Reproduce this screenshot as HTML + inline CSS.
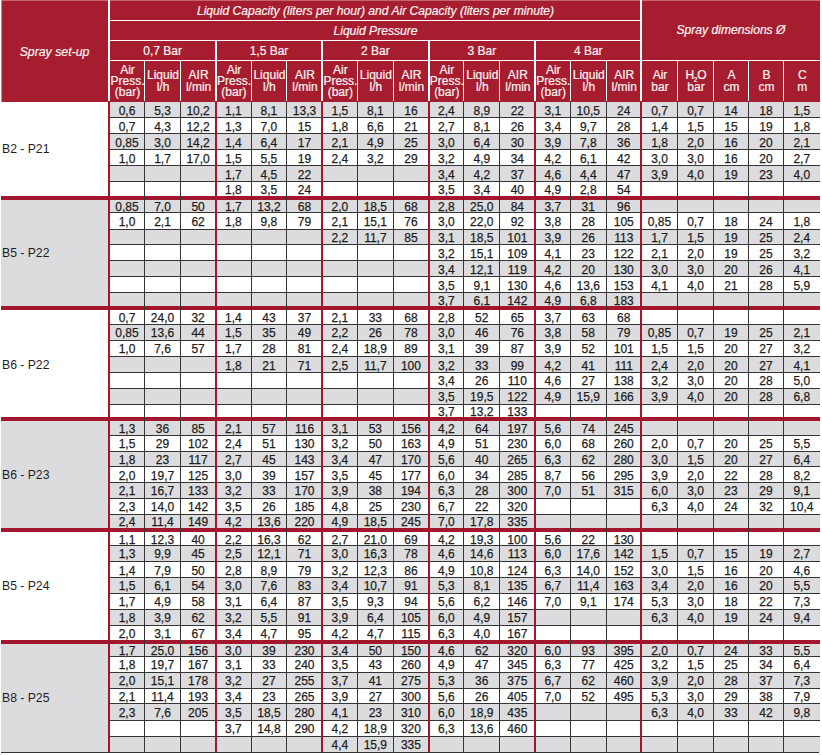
<!DOCTYPE html><html><head><meta charset="utf-8"><style>
html,body{margin:0;padding:0;background:#fff;width:822px;height:755px;overflow:hidden}
body{position:relative;font-family:"Liberation Sans",sans-serif}
div{position:absolute;box-sizing:border-box}
.r{background:#a61d2f}.rl{background:#a3162b}.g{background:#dcdcde}.dk{background:#353535}.w{background:#fff}
.t{color:#1e1e1e;font-size:12px;line-height:16px;text-align:center;white-space:nowrap;-webkit-text-stroke:0.25px #1e1e1e}
.h{color:#fbeeee;font-size:11px;line-height:10px;text-align:center;white-space:nowrap;-webkit-text-stroke:0.2px #fff;display:flex;align-items:center;justify-content:center;flex-direction:column}
.hi{font-style:italic}
.h span{display:block;position:relative}

</style></head><body>
<div class="r" style="left:1px;top:0;width:819px;height:102px"></div>
<div style="left:1px;top:0;width:819px;height:1px;background:#c4656f"></div>
<div style="left:1px;top:0;width:1px;height:102px;background:#d08890"></div>
<div class="w" style="left:108px;top:0px;width:2px;height:101px;"></div>
<div class="w" style="left:640px;top:0px;width:2px;height:101px;"></div>
<div class="w" style="left:110px;top:20px;width:531px;height:1px;"></div>
<div class="w" style="left:110px;top:40px;width:531px;height:1px;"></div>
<div class="w" style="left:110px;top:60px;width:710px;height:1px;"></div>
<div class="w" style="left:215px;top:40px;width:2px;height:61px;"></div>
<div class="w" style="left:321px;top:40px;width:2px;height:61px;"></div>
<div class="w" style="left:428px;top:40px;width:2px;height:61px;"></div>
<div class="w" style="left:534px;top:40px;width:2px;height:61px;"></div>
<div class="w" style="left:144px;top:60px;width:1px;height:41px;"></div>
<div class="w" style="left:180px;top:60px;width:1px;height:41px;"></div>
<div class="w" style="left:251px;top:60px;width:1px;height:41px;"></div>
<div class="w" style="left:286px;top:60px;width:1px;height:41px;"></div>
<div class="w" style="left:357px;top:60px;width:1px;height:41px;"></div>
<div class="w" style="left:393px;top:60px;width:1px;height:41px;"></div>
<div class="w" style="left:463px;top:60px;width:1px;height:41px;"></div>
<div class="w" style="left:499px;top:60px;width:1px;height:41px;"></div>
<div class="w" style="left:570px;top:60px;width:1px;height:41px;"></div>
<div class="w" style="left:606px;top:60px;width:1px;height:41px;"></div>
<div class="w" style="left:677px;top:60px;width:1px;height:41px;"></div>
<div class="w" style="left:713px;top:60px;width:1px;height:41px;"></div>
<div class="w" style="left:748px;top:60px;width:1px;height:41px;"></div>
<div class="w" style="left:783px;top:60px;width:1px;height:41px;"></div>
<div class="h hi" style="left:1.00px;top:1.00px;width:107.00px;height:101.00px;font-size:12.3px;line-height:14px"><span>Spray set-up</span></div>
<div class="h hi" style="left:110.00px;top:1.00px;width:531.00px;height:20.00px;font-size:12.1px;line-height:14px"><span>Liquid Capacity (liters per hour) and Air Capacity (liters per minute)</span></div>
<div class="h hi" style="left:110.00px;top:21.00px;width:531.00px;height:20.00px;font-size:12.1px;line-height:14px"><span>Liquid Pressure</span></div>
<div class="h hi" style="left:642.00px;top:0.00px;width:178.00px;height:60.00px;font-size:12.1px;line-height:14px"><span>Spray dimensions &Oslash;</span></div>
<div class="h" style="left:110.40px;top:41.00px;width:104.42px;height:20.00px;font-size:12px;line-height:14px"><span>0,7 Bar</span></div>
<div class="h" style="left:110.40px;top:61.70px;width:34.30px;height:40.00px;font-size:12px;line-height:11.4px"><span>Air<br>Press.<br>(bar)</span></div>
<div class="h" style="left:145.70px;top:61.70px;width:34.70px;height:40.00px;font-size:12px;line-height:11.4px"><span>Liquid<br>l/h</span></div>
<div class="h" style="left:181.40px;top:61.70px;width:34.42px;height:40.00px;font-size:12px;line-height:11.4px"><span>AIR<br>l/min</span></div>
<div class="h" style="left:216.82px;top:41.00px;width:104.42px;height:20.00px;font-size:12px;line-height:14px"><span>1,5 Bar</span></div>
<div class="h" style="left:216.82px;top:61.70px;width:34.30px;height:40.00px;font-size:12px;line-height:11.4px"><span>Air<br>Press.<br>(bar)</span></div>
<div class="h" style="left:252.12px;top:61.70px;width:34.70px;height:40.00px;font-size:12px;line-height:11.4px"><span>Liquid<br>l/h</span></div>
<div class="h" style="left:287.82px;top:61.70px;width:34.42px;height:40.00px;font-size:12px;line-height:11.4px"><span>AIR<br>l/min</span></div>
<div class="h" style="left:323.24px;top:41.00px;width:104.42px;height:20.00px;font-size:12px;line-height:14px"><span>2 Bar</span></div>
<div class="h" style="left:323.24px;top:61.70px;width:34.30px;height:40.00px;font-size:12px;line-height:11.4px"><span>Air<br>Press.<br>(bar)</span></div>
<div class="h" style="left:358.54px;top:61.70px;width:34.70px;height:40.00px;font-size:12px;line-height:11.4px"><span>Liquid<br>l/h</span></div>
<div class="h" style="left:394.24px;top:61.70px;width:34.42px;height:40.00px;font-size:12px;line-height:11.4px"><span>AIR<br>l/min</span></div>
<div class="h" style="left:429.66px;top:41.00px;width:104.42px;height:20.00px;font-size:12px;line-height:14px"><span>3 Bar</span></div>
<div class="h" style="left:429.66px;top:61.70px;width:34.30px;height:40.00px;font-size:12px;line-height:11.4px"><span>Air<br>Press.<br>(bar)</span></div>
<div class="h" style="left:464.96px;top:61.70px;width:34.70px;height:40.00px;font-size:12px;line-height:11.4px"><span>Liquid<br>l/h</span></div>
<div class="h" style="left:500.66px;top:61.70px;width:34.42px;height:40.00px;font-size:12px;line-height:11.4px"><span>AIR<br>l/min</span></div>
<div class="h" style="left:536.08px;top:41.00px;width:104.42px;height:20.00px;font-size:12px;line-height:14px"><span>4 Bar</span></div>
<div class="h" style="left:536.08px;top:61.70px;width:34.30px;height:40.00px;font-size:12px;line-height:11.4px"><span>Air<br>Press.<br>(bar)</span></div>
<div class="h" style="left:571.38px;top:61.70px;width:34.70px;height:40.00px;font-size:12px;line-height:11.4px"><span>Liquid<br>l/h</span></div>
<div class="h" style="left:607.08px;top:61.70px;width:34.42px;height:40.00px;font-size:12px;line-height:11.4px"><span>AIR<br>l/min</span></div>
<div class="h" style="left:642.50px;top:61.50px;width:35.00px;height:40.00px;font-size:12px;line-height:11.6px"><span>Air<br>bar</span></div>
<div class="h" style="left:678.50px;top:61.50px;width:35.00px;height:40.00px;font-size:12px;line-height:11.6px"><span>H<span style="display:inline;font-size:6.5px;vertical-align:-3.5px;line-height:0;margin:0 -0.3px">2</span>O<br>bar</span></div>
<div class="h" style="left:714.50px;top:61.50px;width:34.00px;height:40.00px;font-size:12px;line-height:11.6px"><span>A<br>cm</span></div>
<div class="h" style="left:749.50px;top:61.50px;width:34.00px;height:40.00px;font-size:12px;line-height:11.6px"><span>B<br>cm</span></div>
<div class="h" style="left:784.50px;top:61.50px;width:35.50px;height:40.00px;font-size:12px;line-height:11.6px"><span>C<br>m</span></div>
<div class="g" style="left:110px;top:102px;width:710px;height:16px;"></div>
<div class="g" style="left:110px;top:134px;width:710px;height:16px;"></div>
<div class="g" style="left:110px;top:166px;width:710px;height:16px;"></div>
<div class="g" style="left:110px;top:198px;width:710px;height:15px;"></div>
<div class="g" style="left:110px;top:229px;width:710px;height:16px;"></div>
<div class="g" style="left:110px;top:261px;width:710px;height:15px;"></div>
<div class="g" style="left:110px;top:293px;width:710px;height:15px;"></div>
<div class="g" style="left:110px;top:324px;width:710px;height:16px;"></div>
<div class="g" style="left:110px;top:357px;width:710px;height:15px;"></div>
<div class="g" style="left:110px;top:388px;width:710px;height:16px;"></div>
<div class="g" style="left:110px;top:419px;width:710px;height:16px;"></div>
<div class="g" style="left:110px;top:451px;width:710px;height:16px;"></div>
<div class="g" style="left:110px;top:482px;width:710px;height:16px;"></div>
<div class="g" style="left:110px;top:514px;width:710px;height:16px;"></div>
<div class="g" style="left:110px;top:545px;width:710px;height:16px;"></div>
<div class="g" style="left:110px;top:578px;width:710px;height:15px;"></div>
<div class="g" style="left:110px;top:609px;width:710px;height:16px;"></div>
<div class="g" style="left:110px;top:642px;width:710px;height:14px;"></div>
<div class="g" style="left:110px;top:672px;width:710px;height:16px;"></div>
<div class="g" style="left:110px;top:704px;width:710px;height:16px;"></div>
<div class="g" style="left:110px;top:736px;width:710px;height:16px;"></div>
<div class="w" style="left:1px;top:102px;width:107px;height:96px;"></div>
<div style="left:2px;top:139.05px;height:20px;line-height:20px;font-size:12.2px;color:#1e1e1e;white-space:nowrap">B2 - P21</div>
<div class="g" style="left:1px;top:198px;width:107px;height:110px;"></div>
<div style="left:2px;top:243.35px;height:20px;line-height:20px;font-size:12.2px;color:#1e1e1e;white-space:nowrap">B5 - P22</div>
<div class="w" style="left:1px;top:308px;width:107px;height:111px;"></div>
<div style="left:2px;top:354.75px;height:20px;line-height:20px;font-size:12.2px;color:#1e1e1e;white-space:nowrap">B6 - P22</div>
<div class="g" style="left:1px;top:419px;width:107px;height:111px;"></div>
<div style="left:2px;top:465.00px;height:20px;line-height:20px;font-size:12.2px;color:#1e1e1e;white-space:nowrap">B6 - P23</div>
<div class="w" style="left:1px;top:530px;width:107px;height:112px;"></div>
<div style="left:2px;top:576.20px;height:20px;line-height:20px;font-size:12.2px;color:#1e1e1e;white-space:nowrap">B5 - P24</div>
<div class="g" style="left:1px;top:642px;width:107px;height:110px;"></div>
<div style="left:2px;top:688.05px;height:20px;line-height:20px;font-size:12.2px;color:#1e1e1e;white-space:nowrap">B8 - P25</div>
<div class="t" style="left:109.40px;top:102.60px;width:35.30px;height:16px;line-height:16px">0,6</div>
<div class="t" style="left:144.70px;top:102.60px;width:35.70px;height:16px;line-height:16px">5,3</div>
<div class="t" style="left:180.40px;top:102.60px;width:35.42px;height:16px;line-height:16px">10,2</div>
<div class="t" style="left:215.82px;top:102.60px;width:35.30px;height:16px;line-height:16px">1,1</div>
<div class="t" style="left:251.12px;top:102.60px;width:35.70px;height:16px;line-height:16px">8,1</div>
<div class="t" style="left:286.82px;top:102.60px;width:35.42px;height:16px;line-height:16px">13,3</div>
<div class="t" style="left:322.24px;top:102.60px;width:35.30px;height:16px;line-height:16px">1,5</div>
<div class="t" style="left:357.54px;top:102.60px;width:35.70px;height:16px;line-height:16px">8,1</div>
<div class="t" style="left:393.24px;top:102.60px;width:35.42px;height:16px;line-height:16px">16</div>
<div class="t" style="left:428.66px;top:102.60px;width:35.30px;height:16px;line-height:16px">2,4</div>
<div class="t" style="left:463.96px;top:102.60px;width:35.70px;height:16px;line-height:16px">8,9</div>
<div class="t" style="left:499.66px;top:102.60px;width:35.42px;height:16px;line-height:16px">22</div>
<div class="t" style="left:535.08px;top:102.60px;width:35.30px;height:16px;line-height:16px">3,1</div>
<div class="t" style="left:570.38px;top:102.60px;width:35.70px;height:16px;line-height:16px">10,5</div>
<div class="t" style="left:606.08px;top:102.60px;width:35.42px;height:16px;line-height:16px">24</div>
<div class="t" style="left:641.50px;top:102.60px;width:36.00px;height:16px;line-height:16px">0,7</div>
<div class="t" style="left:677.50px;top:102.60px;width:36.00px;height:16px;line-height:16px">0,7</div>
<div class="t" style="left:713.50px;top:102.60px;width:35.00px;height:16px;line-height:16px">14</div>
<div class="t" style="left:748.50px;top:102.60px;width:35.00px;height:16px;line-height:16px">18</div>
<div class="t" style="left:783.50px;top:102.60px;width:36.50px;height:16px;line-height:16px">1,5</div>
<div class="t" style="left:109.40px;top:118.60px;width:35.30px;height:16px;line-height:16px">0,7</div>
<div class="t" style="left:144.70px;top:118.60px;width:35.70px;height:16px;line-height:16px">4,3</div>
<div class="t" style="left:180.40px;top:118.60px;width:35.42px;height:16px;line-height:16px">12,2</div>
<div class="t" style="left:215.82px;top:118.60px;width:35.30px;height:16px;line-height:16px">1,3</div>
<div class="t" style="left:251.12px;top:118.60px;width:35.70px;height:16px;line-height:16px">7,0</div>
<div class="t" style="left:286.82px;top:118.60px;width:35.42px;height:16px;line-height:16px">15</div>
<div class="t" style="left:322.24px;top:118.60px;width:35.30px;height:16px;line-height:16px">1,8</div>
<div class="t" style="left:357.54px;top:118.60px;width:35.70px;height:16px;line-height:16px">6,6</div>
<div class="t" style="left:393.24px;top:118.60px;width:35.42px;height:16px;line-height:16px">21</div>
<div class="t" style="left:428.66px;top:118.60px;width:35.30px;height:16px;line-height:16px">2,7</div>
<div class="t" style="left:463.96px;top:118.60px;width:35.70px;height:16px;line-height:16px">8,1</div>
<div class="t" style="left:499.66px;top:118.60px;width:35.42px;height:16px;line-height:16px">26</div>
<div class="t" style="left:535.08px;top:118.60px;width:35.30px;height:16px;line-height:16px">3,4</div>
<div class="t" style="left:570.38px;top:118.60px;width:35.70px;height:16px;line-height:16px">9,7</div>
<div class="t" style="left:606.08px;top:118.60px;width:35.42px;height:16px;line-height:16px">28</div>
<div class="t" style="left:641.50px;top:118.60px;width:36.00px;height:16px;line-height:16px">1,4</div>
<div class="t" style="left:677.50px;top:118.60px;width:36.00px;height:16px;line-height:16px">1,5</div>
<div class="t" style="left:713.50px;top:118.60px;width:35.00px;height:16px;line-height:16px">15</div>
<div class="t" style="left:748.50px;top:118.60px;width:35.00px;height:16px;line-height:16px">19</div>
<div class="t" style="left:783.50px;top:118.60px;width:36.50px;height:16px;line-height:16px">1,8</div>
<div class="t" style="left:109.40px;top:134.65px;width:35.30px;height:16px;line-height:16px">0,85</div>
<div class="t" style="left:144.70px;top:134.65px;width:35.70px;height:16px;line-height:16px">3,0</div>
<div class="t" style="left:180.40px;top:134.65px;width:35.42px;height:16px;line-height:16px">14,2</div>
<div class="t" style="left:215.82px;top:134.65px;width:35.30px;height:16px;line-height:16px">1,4</div>
<div class="t" style="left:251.12px;top:134.65px;width:35.70px;height:16px;line-height:16px">6,4</div>
<div class="t" style="left:286.82px;top:134.65px;width:35.42px;height:16px;line-height:16px">17</div>
<div class="t" style="left:322.24px;top:134.65px;width:35.30px;height:16px;line-height:16px">2,1</div>
<div class="t" style="left:357.54px;top:134.65px;width:35.70px;height:16px;line-height:16px">4,9</div>
<div class="t" style="left:393.24px;top:134.65px;width:35.42px;height:16px;line-height:16px">25</div>
<div class="t" style="left:428.66px;top:134.65px;width:35.30px;height:16px;line-height:16px">3,0</div>
<div class="t" style="left:463.96px;top:134.65px;width:35.70px;height:16px;line-height:16px">6,4</div>
<div class="t" style="left:499.66px;top:134.65px;width:35.42px;height:16px;line-height:16px">30</div>
<div class="t" style="left:535.08px;top:134.65px;width:35.30px;height:16px;line-height:16px">3,9</div>
<div class="t" style="left:570.38px;top:134.65px;width:35.70px;height:16px;line-height:16px">7,8</div>
<div class="t" style="left:606.08px;top:134.65px;width:35.42px;height:16px;line-height:16px">36</div>
<div class="t" style="left:641.50px;top:134.65px;width:36.00px;height:16px;line-height:16px">1,8</div>
<div class="t" style="left:677.50px;top:134.65px;width:36.00px;height:16px;line-height:16px">2,0</div>
<div class="t" style="left:713.50px;top:134.65px;width:35.00px;height:16px;line-height:16px">16</div>
<div class="t" style="left:748.50px;top:134.65px;width:35.00px;height:16px;line-height:16px">20</div>
<div class="t" style="left:783.50px;top:134.65px;width:36.50px;height:16px;line-height:16px">2,1</div>
<div class="t" style="left:109.40px;top:150.70px;width:35.30px;height:16px;line-height:16px">1,0</div>
<div class="t" style="left:144.70px;top:150.70px;width:35.70px;height:16px;line-height:16px">1,7</div>
<div class="t" style="left:180.40px;top:150.70px;width:35.42px;height:16px;line-height:16px">17,0</div>
<div class="t" style="left:215.82px;top:150.70px;width:35.30px;height:16px;line-height:16px">1,5</div>
<div class="t" style="left:251.12px;top:150.70px;width:35.70px;height:16px;line-height:16px">5,5</div>
<div class="t" style="left:286.82px;top:150.70px;width:35.42px;height:16px;line-height:16px">19</div>
<div class="t" style="left:322.24px;top:150.70px;width:35.30px;height:16px;line-height:16px">2,4</div>
<div class="t" style="left:357.54px;top:150.70px;width:35.70px;height:16px;line-height:16px">3,2</div>
<div class="t" style="left:393.24px;top:150.70px;width:35.42px;height:16px;line-height:16px">29</div>
<div class="t" style="left:428.66px;top:150.70px;width:35.30px;height:16px;line-height:16px">3,2</div>
<div class="t" style="left:463.96px;top:150.70px;width:35.70px;height:16px;line-height:16px">4,9</div>
<div class="t" style="left:499.66px;top:150.70px;width:35.42px;height:16px;line-height:16px">34</div>
<div class="t" style="left:535.08px;top:150.70px;width:35.30px;height:16px;line-height:16px">4,2</div>
<div class="t" style="left:570.38px;top:150.70px;width:35.70px;height:16px;line-height:16px">6,1</div>
<div class="t" style="left:606.08px;top:150.70px;width:35.42px;height:16px;line-height:16px">42</div>
<div class="t" style="left:641.50px;top:150.70px;width:36.00px;height:16px;line-height:16px">3,0</div>
<div class="t" style="left:677.50px;top:150.70px;width:36.00px;height:16px;line-height:16px">3,0</div>
<div class="t" style="left:713.50px;top:150.70px;width:35.00px;height:16px;line-height:16px">16</div>
<div class="t" style="left:748.50px;top:150.70px;width:35.00px;height:16px;line-height:16px">20</div>
<div class="t" style="left:783.50px;top:150.70px;width:36.50px;height:16px;line-height:16px">2,7</div>
<div class="t" style="left:215.82px;top:166.70px;width:35.30px;height:16px;line-height:16px">1,7</div>
<div class="t" style="left:251.12px;top:166.70px;width:35.70px;height:16px;line-height:16px">4,5</div>
<div class="t" style="left:286.82px;top:166.70px;width:35.42px;height:16px;line-height:16px">22</div>
<div class="t" style="left:428.66px;top:166.70px;width:35.30px;height:16px;line-height:16px">3,4</div>
<div class="t" style="left:463.96px;top:166.70px;width:35.70px;height:16px;line-height:16px">4,2</div>
<div class="t" style="left:499.66px;top:166.70px;width:35.42px;height:16px;line-height:16px">37</div>
<div class="t" style="left:535.08px;top:166.70px;width:35.30px;height:16px;line-height:16px">4,6</div>
<div class="t" style="left:570.38px;top:166.70px;width:35.70px;height:16px;line-height:16px">4,4</div>
<div class="t" style="left:606.08px;top:166.70px;width:35.42px;height:16px;line-height:16px">47</div>
<div class="t" style="left:641.50px;top:166.70px;width:36.00px;height:16px;line-height:16px">3,9</div>
<div class="t" style="left:677.50px;top:166.70px;width:36.00px;height:16px;line-height:16px">4,0</div>
<div class="t" style="left:713.50px;top:166.70px;width:35.00px;height:16px;line-height:16px">19</div>
<div class="t" style="left:748.50px;top:166.70px;width:35.00px;height:16px;line-height:16px">23</div>
<div class="t" style="left:783.50px;top:166.70px;width:36.50px;height:16px;line-height:16px">4,0</div>
<div class="t" style="left:215.82px;top:181.95px;width:35.30px;height:16px;line-height:16px">1,8</div>
<div class="t" style="left:251.12px;top:181.95px;width:35.70px;height:16px;line-height:16px">3,5</div>
<div class="t" style="left:286.82px;top:181.95px;width:35.42px;height:16px;line-height:16px">24</div>
<div class="t" style="left:428.66px;top:181.95px;width:35.30px;height:16px;line-height:16px">3,5</div>
<div class="t" style="left:463.96px;top:181.95px;width:35.70px;height:16px;line-height:16px">3,4</div>
<div class="t" style="left:499.66px;top:181.95px;width:35.42px;height:16px;line-height:16px">40</div>
<div class="t" style="left:535.08px;top:181.95px;width:35.30px;height:16px;line-height:16px">4,9</div>
<div class="t" style="left:570.38px;top:181.95px;width:35.70px;height:16px;line-height:16px">2,8</div>
<div class="t" style="left:606.08px;top:181.95px;width:35.42px;height:16px;line-height:16px">54</div>
<div class="t" style="left:109.40px;top:199.05px;width:35.30px;height:16px;line-height:16px">0,85</div>
<div class="t" style="left:144.70px;top:199.05px;width:35.70px;height:16px;line-height:16px">7,0</div>
<div class="t" style="left:180.40px;top:199.05px;width:35.42px;height:16px;line-height:16px">50</div>
<div class="t" style="left:215.82px;top:199.05px;width:35.30px;height:16px;line-height:16px">1,7</div>
<div class="t" style="left:251.12px;top:199.05px;width:35.70px;height:16px;line-height:16px">13,2</div>
<div class="t" style="left:286.82px;top:199.05px;width:35.42px;height:16px;line-height:16px">68</div>
<div class="t" style="left:322.24px;top:199.05px;width:35.30px;height:16px;line-height:16px">2,0</div>
<div class="t" style="left:357.54px;top:199.05px;width:35.70px;height:16px;line-height:16px">18,5</div>
<div class="t" style="left:393.24px;top:199.05px;width:35.42px;height:16px;line-height:16px">68</div>
<div class="t" style="left:428.66px;top:199.05px;width:35.30px;height:16px;line-height:16px">2,8</div>
<div class="t" style="left:463.96px;top:199.05px;width:35.70px;height:16px;line-height:16px">25,0</div>
<div class="t" style="left:499.66px;top:199.05px;width:35.42px;height:16px;line-height:16px">84</div>
<div class="t" style="left:535.08px;top:199.05px;width:35.30px;height:16px;line-height:16px">3,7</div>
<div class="t" style="left:570.38px;top:199.05px;width:35.70px;height:16px;line-height:16px">31</div>
<div class="t" style="left:606.08px;top:199.05px;width:35.42px;height:16px;line-height:16px">96</div>
<div class="t" style="left:109.40px;top:214.05px;width:35.30px;height:16px;line-height:16px">1,0</div>
<div class="t" style="left:144.70px;top:214.05px;width:35.70px;height:16px;line-height:16px">2,1</div>
<div class="t" style="left:180.40px;top:214.05px;width:35.42px;height:16px;line-height:16px">62</div>
<div class="t" style="left:215.82px;top:214.05px;width:35.30px;height:16px;line-height:16px">1,8</div>
<div class="t" style="left:251.12px;top:214.05px;width:35.70px;height:16px;line-height:16px">9,8</div>
<div class="t" style="left:286.82px;top:214.05px;width:35.42px;height:16px;line-height:16px">79</div>
<div class="t" style="left:322.24px;top:214.05px;width:35.30px;height:16px;line-height:16px">2,1</div>
<div class="t" style="left:357.54px;top:214.05px;width:35.70px;height:16px;line-height:16px">15,1</div>
<div class="t" style="left:393.24px;top:214.05px;width:35.42px;height:16px;line-height:16px">76</div>
<div class="t" style="left:428.66px;top:214.05px;width:35.30px;height:16px;line-height:16px">3,0</div>
<div class="t" style="left:463.96px;top:214.05px;width:35.70px;height:16px;line-height:16px">22,0</div>
<div class="t" style="left:499.66px;top:214.05px;width:35.42px;height:16px;line-height:16px">92</div>
<div class="t" style="left:535.08px;top:214.05px;width:35.30px;height:16px;line-height:16px">3,8</div>
<div class="t" style="left:570.38px;top:214.05px;width:35.70px;height:16px;line-height:16px">28</div>
<div class="t" style="left:606.08px;top:214.05px;width:35.42px;height:16px;line-height:16px">105</div>
<div class="t" style="left:641.50px;top:214.05px;width:36.00px;height:16px;line-height:16px">0,85</div>
<div class="t" style="left:677.50px;top:214.05px;width:36.00px;height:16px;line-height:16px">0,7</div>
<div class="t" style="left:713.50px;top:214.05px;width:35.00px;height:16px;line-height:16px">18</div>
<div class="t" style="left:748.50px;top:214.05px;width:35.00px;height:16px;line-height:16px">24</div>
<div class="t" style="left:783.50px;top:214.05px;width:36.50px;height:16px;line-height:16px">1,8</div>
<div class="t" style="left:322.24px;top:229.95px;width:35.30px;height:16px;line-height:16px">2,2</div>
<div class="t" style="left:357.54px;top:229.95px;width:35.70px;height:16px;line-height:16px">11,7</div>
<div class="t" style="left:393.24px;top:229.95px;width:35.42px;height:16px;line-height:16px">85</div>
<div class="t" style="left:428.66px;top:229.95px;width:35.30px;height:16px;line-height:16px">3,1</div>
<div class="t" style="left:463.96px;top:229.95px;width:35.70px;height:16px;line-height:16px">18,5</div>
<div class="t" style="left:499.66px;top:229.95px;width:35.42px;height:16px;line-height:16px">101</div>
<div class="t" style="left:535.08px;top:229.95px;width:35.30px;height:16px;line-height:16px">3,9</div>
<div class="t" style="left:570.38px;top:229.95px;width:35.70px;height:16px;line-height:16px">26</div>
<div class="t" style="left:606.08px;top:229.95px;width:35.42px;height:16px;line-height:16px">113</div>
<div class="t" style="left:641.50px;top:229.95px;width:36.00px;height:16px;line-height:16px">1,7</div>
<div class="t" style="left:677.50px;top:229.95px;width:36.00px;height:16px;line-height:16px">1,5</div>
<div class="t" style="left:713.50px;top:229.95px;width:35.00px;height:16px;line-height:16px">19</div>
<div class="t" style="left:748.50px;top:229.95px;width:35.00px;height:16px;line-height:16px">25</div>
<div class="t" style="left:783.50px;top:229.95px;width:36.50px;height:16px;line-height:16px">2,4</div>
<div class="t" style="left:428.66px;top:245.65px;width:35.30px;height:16px;line-height:16px">3,2</div>
<div class="t" style="left:463.96px;top:245.65px;width:35.70px;height:16px;line-height:16px">15,1</div>
<div class="t" style="left:499.66px;top:245.65px;width:35.42px;height:16px;line-height:16px">109</div>
<div class="t" style="left:535.08px;top:245.65px;width:35.30px;height:16px;line-height:16px">4,1</div>
<div class="t" style="left:570.38px;top:245.65px;width:35.70px;height:16px;line-height:16px">23</div>
<div class="t" style="left:606.08px;top:245.65px;width:35.42px;height:16px;line-height:16px">122</div>
<div class="t" style="left:641.50px;top:245.65px;width:36.00px;height:16px;line-height:16px">2,1</div>
<div class="t" style="left:677.50px;top:245.65px;width:36.00px;height:16px;line-height:16px">2,0</div>
<div class="t" style="left:713.50px;top:245.65px;width:35.00px;height:16px;line-height:16px">19</div>
<div class="t" style="left:748.50px;top:245.65px;width:35.00px;height:16px;line-height:16px">25</div>
<div class="t" style="left:783.50px;top:245.65px;width:36.50px;height:16px;line-height:16px">3,2</div>
<div class="t" style="left:428.66px;top:261.50px;width:35.30px;height:16px;line-height:16px">3,4</div>
<div class="t" style="left:463.96px;top:261.50px;width:35.70px;height:16px;line-height:16px">12,1</div>
<div class="t" style="left:499.66px;top:261.50px;width:35.42px;height:16px;line-height:16px">119</div>
<div class="t" style="left:535.08px;top:261.50px;width:35.30px;height:16px;line-height:16px">4,2</div>
<div class="t" style="left:570.38px;top:261.50px;width:35.70px;height:16px;line-height:16px">20</div>
<div class="t" style="left:606.08px;top:261.50px;width:35.42px;height:16px;line-height:16px">130</div>
<div class="t" style="left:641.50px;top:261.50px;width:36.00px;height:16px;line-height:16px">3,0</div>
<div class="t" style="left:677.50px;top:261.50px;width:36.00px;height:16px;line-height:16px">3,0</div>
<div class="t" style="left:713.50px;top:261.50px;width:35.00px;height:16px;line-height:16px">20</div>
<div class="t" style="left:748.50px;top:261.50px;width:35.00px;height:16px;line-height:16px">26</div>
<div class="t" style="left:783.50px;top:261.50px;width:36.50px;height:16px;line-height:16px">4,1</div>
<div class="t" style="left:428.66px;top:277.60px;width:35.30px;height:16px;line-height:16px">3,5</div>
<div class="t" style="left:463.96px;top:277.60px;width:35.70px;height:16px;line-height:16px">9,1</div>
<div class="t" style="left:499.66px;top:277.60px;width:35.42px;height:16px;line-height:16px">130</div>
<div class="t" style="left:535.08px;top:277.60px;width:35.30px;height:16px;line-height:16px">4,6</div>
<div class="t" style="left:570.38px;top:277.60px;width:35.70px;height:16px;line-height:16px">13,6</div>
<div class="t" style="left:606.08px;top:277.60px;width:35.42px;height:16px;line-height:16px">153</div>
<div class="t" style="left:641.50px;top:277.60px;width:36.00px;height:16px;line-height:16px">4,1</div>
<div class="t" style="left:677.50px;top:277.60px;width:36.00px;height:16px;line-height:16px">4,0</div>
<div class="t" style="left:713.50px;top:277.60px;width:35.00px;height:16px;line-height:16px">21</div>
<div class="t" style="left:748.50px;top:277.60px;width:35.00px;height:16px;line-height:16px">28</div>
<div class="t" style="left:783.50px;top:277.60px;width:36.50px;height:16px;line-height:16px">5,9</div>
<div class="t" style="left:428.66px;top:292.65px;width:35.30px;height:16px;line-height:16px">3,7</div>
<div class="t" style="left:463.96px;top:292.65px;width:35.70px;height:16px;line-height:16px">6,1</div>
<div class="t" style="left:499.66px;top:292.65px;width:35.42px;height:16px;line-height:16px">142</div>
<div class="t" style="left:535.08px;top:292.65px;width:35.30px;height:16px;line-height:16px">4,9</div>
<div class="t" style="left:570.38px;top:292.65px;width:35.70px;height:16px;line-height:16px">6,8</div>
<div class="t" style="left:606.08px;top:292.65px;width:35.42px;height:16px;line-height:16px">183</div>
<div class="t" style="left:109.40px;top:310.00px;width:35.30px;height:16px;line-height:16px">0,7</div>
<div class="t" style="left:144.70px;top:310.00px;width:35.70px;height:16px;line-height:16px">24,0</div>
<div class="t" style="left:180.40px;top:310.00px;width:35.42px;height:16px;line-height:16px">32</div>
<div class="t" style="left:215.82px;top:310.00px;width:35.30px;height:16px;line-height:16px">1,4</div>
<div class="t" style="left:251.12px;top:310.00px;width:35.70px;height:16px;line-height:16px">43</div>
<div class="t" style="left:286.82px;top:310.00px;width:35.42px;height:16px;line-height:16px">37</div>
<div class="t" style="left:322.24px;top:310.00px;width:35.30px;height:16px;line-height:16px">2,1</div>
<div class="t" style="left:357.54px;top:310.00px;width:35.70px;height:16px;line-height:16px">33</div>
<div class="t" style="left:393.24px;top:310.00px;width:35.42px;height:16px;line-height:16px">68</div>
<div class="t" style="left:428.66px;top:310.00px;width:35.30px;height:16px;line-height:16px">2,8</div>
<div class="t" style="left:463.96px;top:310.00px;width:35.70px;height:16px;line-height:16px">52</div>
<div class="t" style="left:499.66px;top:310.00px;width:35.42px;height:16px;line-height:16px">65</div>
<div class="t" style="left:535.08px;top:310.00px;width:35.30px;height:16px;line-height:16px">3,7</div>
<div class="t" style="left:570.38px;top:310.00px;width:35.70px;height:16px;line-height:16px">63</div>
<div class="t" style="left:606.08px;top:310.00px;width:35.42px;height:16px;line-height:16px">68</div>
<div class="t" style="left:109.40px;top:325.25px;width:35.30px;height:16px;line-height:16px">0,85</div>
<div class="t" style="left:144.70px;top:325.25px;width:35.70px;height:16px;line-height:16px">13,6</div>
<div class="t" style="left:180.40px;top:325.25px;width:35.42px;height:16px;line-height:16px">44</div>
<div class="t" style="left:215.82px;top:325.25px;width:35.30px;height:16px;line-height:16px">1,5</div>
<div class="t" style="left:251.12px;top:325.25px;width:35.70px;height:16px;line-height:16px">35</div>
<div class="t" style="left:286.82px;top:325.25px;width:35.42px;height:16px;line-height:16px">49</div>
<div class="t" style="left:322.24px;top:325.25px;width:35.30px;height:16px;line-height:16px">2,2</div>
<div class="t" style="left:357.54px;top:325.25px;width:35.70px;height:16px;line-height:16px">26</div>
<div class="t" style="left:393.24px;top:325.25px;width:35.42px;height:16px;line-height:16px">78</div>
<div class="t" style="left:428.66px;top:325.25px;width:35.30px;height:16px;line-height:16px">3,0</div>
<div class="t" style="left:463.96px;top:325.25px;width:35.70px;height:16px;line-height:16px">46</div>
<div class="t" style="left:499.66px;top:325.25px;width:35.42px;height:16px;line-height:16px">76</div>
<div class="t" style="left:535.08px;top:325.25px;width:35.30px;height:16px;line-height:16px">3,8</div>
<div class="t" style="left:570.38px;top:325.25px;width:35.70px;height:16px;line-height:16px">58</div>
<div class="t" style="left:606.08px;top:325.25px;width:35.42px;height:16px;line-height:16px">79</div>
<div class="t" style="left:641.50px;top:325.25px;width:36.00px;height:16px;line-height:16px">0,85</div>
<div class="t" style="left:677.50px;top:325.25px;width:36.00px;height:16px;line-height:16px">0,7</div>
<div class="t" style="left:713.50px;top:325.25px;width:35.00px;height:16px;line-height:16px">19</div>
<div class="t" style="left:748.50px;top:325.25px;width:35.00px;height:16px;line-height:16px">25</div>
<div class="t" style="left:783.50px;top:325.25px;width:36.50px;height:16px;line-height:16px">2,1</div>
<div class="t" style="left:109.40px;top:341.40px;width:35.30px;height:16px;line-height:16px">1,0</div>
<div class="t" style="left:144.70px;top:341.40px;width:35.70px;height:16px;line-height:16px">7,6</div>
<div class="t" style="left:180.40px;top:341.40px;width:35.42px;height:16px;line-height:16px">57</div>
<div class="t" style="left:215.82px;top:341.40px;width:35.30px;height:16px;line-height:16px">1,7</div>
<div class="t" style="left:251.12px;top:341.40px;width:35.70px;height:16px;line-height:16px">28</div>
<div class="t" style="left:286.82px;top:341.40px;width:35.42px;height:16px;line-height:16px">81</div>
<div class="t" style="left:322.24px;top:341.40px;width:35.30px;height:16px;line-height:16px">2,4</div>
<div class="t" style="left:357.54px;top:341.40px;width:35.70px;height:16px;line-height:16px">18,9</div>
<div class="t" style="left:393.24px;top:341.40px;width:35.42px;height:16px;line-height:16px">89</div>
<div class="t" style="left:428.66px;top:341.40px;width:35.30px;height:16px;line-height:16px">3,1</div>
<div class="t" style="left:463.96px;top:341.40px;width:35.70px;height:16px;line-height:16px">39</div>
<div class="t" style="left:499.66px;top:341.40px;width:35.42px;height:16px;line-height:16px">87</div>
<div class="t" style="left:535.08px;top:341.40px;width:35.30px;height:16px;line-height:16px">3,9</div>
<div class="t" style="left:570.38px;top:341.40px;width:35.70px;height:16px;line-height:16px">52</div>
<div class="t" style="left:606.08px;top:341.40px;width:35.42px;height:16px;line-height:16px">101</div>
<div class="t" style="left:641.50px;top:341.40px;width:36.00px;height:16px;line-height:16px">1,5</div>
<div class="t" style="left:677.50px;top:341.40px;width:36.00px;height:16px;line-height:16px">1,5</div>
<div class="t" style="left:713.50px;top:341.40px;width:35.00px;height:16px;line-height:16px">20</div>
<div class="t" style="left:748.50px;top:341.40px;width:35.00px;height:16px;line-height:16px">27</div>
<div class="t" style="left:783.50px;top:341.40px;width:36.50px;height:16px;line-height:16px">3,2</div>
<div class="t" style="left:215.82px;top:357.50px;width:35.30px;height:16px;line-height:16px">1,8</div>
<div class="t" style="left:251.12px;top:357.50px;width:35.70px;height:16px;line-height:16px">21</div>
<div class="t" style="left:286.82px;top:357.50px;width:35.42px;height:16px;line-height:16px">71</div>
<div class="t" style="left:322.24px;top:357.50px;width:35.30px;height:16px;line-height:16px">2,5</div>
<div class="t" style="left:357.54px;top:357.50px;width:35.70px;height:16px;line-height:16px">11,7</div>
<div class="t" style="left:393.24px;top:357.50px;width:35.42px;height:16px;line-height:16px">100</div>
<div class="t" style="left:428.66px;top:357.50px;width:35.30px;height:16px;line-height:16px">3,2</div>
<div class="t" style="left:463.96px;top:357.50px;width:35.70px;height:16px;line-height:16px">33</div>
<div class="t" style="left:499.66px;top:357.50px;width:35.42px;height:16px;line-height:16px">99</div>
<div class="t" style="left:535.08px;top:357.50px;width:35.30px;height:16px;line-height:16px">4,2</div>
<div class="t" style="left:570.38px;top:357.50px;width:35.70px;height:16px;line-height:16px">41</div>
<div class="t" style="left:606.08px;top:357.50px;width:35.42px;height:16px;line-height:16px">111</div>
<div class="t" style="left:641.50px;top:357.50px;width:36.00px;height:16px;line-height:16px">2,4</div>
<div class="t" style="left:677.50px;top:357.50px;width:36.00px;height:16px;line-height:16px">2,0</div>
<div class="t" style="left:713.50px;top:357.50px;width:35.00px;height:16px;line-height:16px">20</div>
<div class="t" style="left:748.50px;top:357.50px;width:35.00px;height:16px;line-height:16px">27</div>
<div class="t" style="left:783.50px;top:357.50px;width:36.50px;height:16px;line-height:16px">4,1</div>
<div class="t" style="left:428.66px;top:373.20px;width:35.30px;height:16px;line-height:16px">3,4</div>
<div class="t" style="left:463.96px;top:373.20px;width:35.70px;height:16px;line-height:16px">26</div>
<div class="t" style="left:499.66px;top:373.20px;width:35.42px;height:16px;line-height:16px">110</div>
<div class="t" style="left:535.08px;top:373.20px;width:35.30px;height:16px;line-height:16px">4,6</div>
<div class="t" style="left:570.38px;top:373.20px;width:35.70px;height:16px;line-height:16px">27</div>
<div class="t" style="left:606.08px;top:373.20px;width:35.42px;height:16px;line-height:16px">138</div>
<div class="t" style="left:641.50px;top:373.20px;width:36.00px;height:16px;line-height:16px">3,2</div>
<div class="t" style="left:677.50px;top:373.20px;width:36.00px;height:16px;line-height:16px">3,0</div>
<div class="t" style="left:713.50px;top:373.20px;width:35.00px;height:16px;line-height:16px">20</div>
<div class="t" style="left:748.50px;top:373.20px;width:35.00px;height:16px;line-height:16px">28</div>
<div class="t" style="left:783.50px;top:373.20px;width:36.50px;height:16px;line-height:16px">5,0</div>
<div class="t" style="left:428.66px;top:389.10px;width:35.30px;height:16px;line-height:16px">3,5</div>
<div class="t" style="left:463.96px;top:389.10px;width:35.70px;height:16px;line-height:16px">19,5</div>
<div class="t" style="left:499.66px;top:389.10px;width:35.42px;height:16px;line-height:16px">122</div>
<div class="t" style="left:535.08px;top:389.10px;width:35.30px;height:16px;line-height:16px">4,9</div>
<div class="t" style="left:570.38px;top:389.10px;width:35.70px;height:16px;line-height:16px">15,9</div>
<div class="t" style="left:606.08px;top:389.10px;width:35.42px;height:16px;line-height:16px">166</div>
<div class="t" style="left:641.50px;top:389.10px;width:36.00px;height:16px;line-height:16px">3,9</div>
<div class="t" style="left:677.50px;top:389.10px;width:36.00px;height:16px;line-height:16px">4,0</div>
<div class="t" style="left:713.50px;top:389.10px;width:35.00px;height:16px;line-height:16px">20</div>
<div class="t" style="left:748.50px;top:389.10px;width:35.00px;height:16px;line-height:16px">28</div>
<div class="t" style="left:783.50px;top:389.10px;width:36.50px;height:16px;line-height:16px">6,8</div>
<div class="t" style="left:428.66px;top:403.75px;width:35.30px;height:16px;line-height:16px">3,7</div>
<div class="t" style="left:463.96px;top:403.75px;width:35.70px;height:16px;line-height:16px">13,2</div>
<div class="t" style="left:499.66px;top:403.75px;width:35.42px;height:16px;line-height:16px">133</div>
<div class="t" style="left:109.40px;top:420.85px;width:35.30px;height:16px;line-height:16px">1,3</div>
<div class="t" style="left:144.70px;top:420.85px;width:35.70px;height:16px;line-height:16px">36</div>
<div class="t" style="left:180.40px;top:420.85px;width:35.42px;height:16px;line-height:16px">85</div>
<div class="t" style="left:215.82px;top:420.85px;width:35.30px;height:16px;line-height:16px">2,1</div>
<div class="t" style="left:251.12px;top:420.85px;width:35.70px;height:16px;line-height:16px">57</div>
<div class="t" style="left:286.82px;top:420.85px;width:35.42px;height:16px;line-height:16px">116</div>
<div class="t" style="left:322.24px;top:420.85px;width:35.30px;height:16px;line-height:16px">3,1</div>
<div class="t" style="left:357.54px;top:420.85px;width:35.70px;height:16px;line-height:16px">53</div>
<div class="t" style="left:393.24px;top:420.85px;width:35.42px;height:16px;line-height:16px">156</div>
<div class="t" style="left:428.66px;top:420.85px;width:35.30px;height:16px;line-height:16px">4,2</div>
<div class="t" style="left:463.96px;top:420.85px;width:35.70px;height:16px;line-height:16px">64</div>
<div class="t" style="left:499.66px;top:420.85px;width:35.42px;height:16px;line-height:16px">197</div>
<div class="t" style="left:535.08px;top:420.85px;width:35.30px;height:16px;line-height:16px">5,6</div>
<div class="t" style="left:570.38px;top:420.85px;width:35.70px;height:16px;line-height:16px">74</div>
<div class="t" style="left:606.08px;top:420.85px;width:35.42px;height:16px;line-height:16px">245</div>
<div class="t" style="left:109.40px;top:436.15px;width:35.30px;height:16px;line-height:16px">1,5</div>
<div class="t" style="left:144.70px;top:436.15px;width:35.70px;height:16px;line-height:16px">29</div>
<div class="t" style="left:180.40px;top:436.15px;width:35.42px;height:16px;line-height:16px">102</div>
<div class="t" style="left:215.82px;top:436.15px;width:35.30px;height:16px;line-height:16px">2,4</div>
<div class="t" style="left:251.12px;top:436.15px;width:35.70px;height:16px;line-height:16px">51</div>
<div class="t" style="left:286.82px;top:436.15px;width:35.42px;height:16px;line-height:16px">130</div>
<div class="t" style="left:322.24px;top:436.15px;width:35.30px;height:16px;line-height:16px">3,2</div>
<div class="t" style="left:357.54px;top:436.15px;width:35.70px;height:16px;line-height:16px">50</div>
<div class="t" style="left:393.24px;top:436.15px;width:35.42px;height:16px;line-height:16px">163</div>
<div class="t" style="left:428.66px;top:436.15px;width:35.30px;height:16px;line-height:16px">4,9</div>
<div class="t" style="left:463.96px;top:436.15px;width:35.70px;height:16px;line-height:16px">51</div>
<div class="t" style="left:499.66px;top:436.15px;width:35.42px;height:16px;line-height:16px">230</div>
<div class="t" style="left:535.08px;top:436.15px;width:35.30px;height:16px;line-height:16px">6,0</div>
<div class="t" style="left:570.38px;top:436.15px;width:35.70px;height:16px;line-height:16px">68</div>
<div class="t" style="left:606.08px;top:436.15px;width:35.42px;height:16px;line-height:16px">260</div>
<div class="t" style="left:641.50px;top:436.15px;width:36.00px;height:16px;line-height:16px">2,0</div>
<div class="t" style="left:677.50px;top:436.15px;width:36.00px;height:16px;line-height:16px">0,7</div>
<div class="t" style="left:713.50px;top:436.15px;width:35.00px;height:16px;line-height:16px">20</div>
<div class="t" style="left:748.50px;top:436.15px;width:35.00px;height:16px;line-height:16px">25</div>
<div class="t" style="left:783.50px;top:436.15px;width:36.50px;height:16px;line-height:16px">5,5</div>
<div class="t" style="left:109.40px;top:451.95px;width:35.30px;height:16px;line-height:16px">1,8</div>
<div class="t" style="left:144.70px;top:451.95px;width:35.70px;height:16px;line-height:16px">23</div>
<div class="t" style="left:180.40px;top:451.95px;width:35.42px;height:16px;line-height:16px">117</div>
<div class="t" style="left:215.82px;top:451.95px;width:35.30px;height:16px;line-height:16px">2,7</div>
<div class="t" style="left:251.12px;top:451.95px;width:35.70px;height:16px;line-height:16px">45</div>
<div class="t" style="left:286.82px;top:451.95px;width:35.42px;height:16px;line-height:16px">143</div>
<div class="t" style="left:322.24px;top:451.95px;width:35.30px;height:16px;line-height:16px">3,4</div>
<div class="t" style="left:357.54px;top:451.95px;width:35.70px;height:16px;line-height:16px">47</div>
<div class="t" style="left:393.24px;top:451.95px;width:35.42px;height:16px;line-height:16px">170</div>
<div class="t" style="left:428.66px;top:451.95px;width:35.30px;height:16px;line-height:16px">5,6</div>
<div class="t" style="left:463.96px;top:451.95px;width:35.70px;height:16px;line-height:16px">40</div>
<div class="t" style="left:499.66px;top:451.95px;width:35.42px;height:16px;line-height:16px">265</div>
<div class="t" style="left:535.08px;top:451.95px;width:35.30px;height:16px;line-height:16px">6,3</div>
<div class="t" style="left:570.38px;top:451.95px;width:35.70px;height:16px;line-height:16px">62</div>
<div class="t" style="left:606.08px;top:451.95px;width:35.42px;height:16px;line-height:16px">280</div>
<div class="t" style="left:641.50px;top:451.95px;width:36.00px;height:16px;line-height:16px">3,0</div>
<div class="t" style="left:677.50px;top:451.95px;width:36.00px;height:16px;line-height:16px">1,5</div>
<div class="t" style="left:713.50px;top:451.95px;width:35.00px;height:16px;line-height:16px">20</div>
<div class="t" style="left:748.50px;top:451.95px;width:35.00px;height:16px;line-height:16px">27</div>
<div class="t" style="left:783.50px;top:451.95px;width:36.50px;height:16px;line-height:16px">6,4</div>
<div class="t" style="left:109.40px;top:467.65px;width:35.30px;height:16px;line-height:16px">2,0</div>
<div class="t" style="left:144.70px;top:467.65px;width:35.70px;height:16px;line-height:16px">19,7</div>
<div class="t" style="left:180.40px;top:467.65px;width:35.42px;height:16px;line-height:16px">125</div>
<div class="t" style="left:215.82px;top:467.65px;width:35.30px;height:16px;line-height:16px">3,0</div>
<div class="t" style="left:251.12px;top:467.65px;width:35.70px;height:16px;line-height:16px">39</div>
<div class="t" style="left:286.82px;top:467.65px;width:35.42px;height:16px;line-height:16px">157</div>
<div class="t" style="left:322.24px;top:467.65px;width:35.30px;height:16px;line-height:16px">3,5</div>
<div class="t" style="left:357.54px;top:467.65px;width:35.70px;height:16px;line-height:16px">45</div>
<div class="t" style="left:393.24px;top:467.65px;width:35.42px;height:16px;line-height:16px">177</div>
<div class="t" style="left:428.66px;top:467.65px;width:35.30px;height:16px;line-height:16px">6,0</div>
<div class="t" style="left:463.96px;top:467.65px;width:35.70px;height:16px;line-height:16px">34</div>
<div class="t" style="left:499.66px;top:467.65px;width:35.42px;height:16px;line-height:16px">285</div>
<div class="t" style="left:535.08px;top:467.65px;width:35.30px;height:16px;line-height:16px">8,7</div>
<div class="t" style="left:570.38px;top:467.65px;width:35.70px;height:16px;line-height:16px">56</div>
<div class="t" style="left:606.08px;top:467.65px;width:35.42px;height:16px;line-height:16px">295</div>
<div class="t" style="left:641.50px;top:467.65px;width:36.00px;height:16px;line-height:16px">3,9</div>
<div class="t" style="left:677.50px;top:467.65px;width:36.00px;height:16px;line-height:16px">2,0</div>
<div class="t" style="left:713.50px;top:467.65px;width:35.00px;height:16px;line-height:16px">22</div>
<div class="t" style="left:748.50px;top:467.65px;width:35.00px;height:16px;line-height:16px">28</div>
<div class="t" style="left:783.50px;top:467.65px;width:36.50px;height:16px;line-height:16px">8,2</div>
<div class="t" style="left:109.40px;top:483.40px;width:35.30px;height:16px;line-height:16px">2,1</div>
<div class="t" style="left:144.70px;top:483.40px;width:35.70px;height:16px;line-height:16px">16,7</div>
<div class="t" style="left:180.40px;top:483.40px;width:35.42px;height:16px;line-height:16px">133</div>
<div class="t" style="left:215.82px;top:483.40px;width:35.30px;height:16px;line-height:16px">3,2</div>
<div class="t" style="left:251.12px;top:483.40px;width:35.70px;height:16px;line-height:16px">33</div>
<div class="t" style="left:286.82px;top:483.40px;width:35.42px;height:16px;line-height:16px">170</div>
<div class="t" style="left:322.24px;top:483.40px;width:35.30px;height:16px;line-height:16px">3,9</div>
<div class="t" style="left:357.54px;top:483.40px;width:35.70px;height:16px;line-height:16px">38</div>
<div class="t" style="left:393.24px;top:483.40px;width:35.42px;height:16px;line-height:16px">194</div>
<div class="t" style="left:428.66px;top:483.40px;width:35.30px;height:16px;line-height:16px">6,3</div>
<div class="t" style="left:463.96px;top:483.40px;width:35.70px;height:16px;line-height:16px">28</div>
<div class="t" style="left:499.66px;top:483.40px;width:35.42px;height:16px;line-height:16px">300</div>
<div class="t" style="left:535.08px;top:483.40px;width:35.30px;height:16px;line-height:16px">7,0</div>
<div class="t" style="left:570.38px;top:483.40px;width:35.70px;height:16px;line-height:16px">51</div>
<div class="t" style="left:606.08px;top:483.40px;width:35.42px;height:16px;line-height:16px">315</div>
<div class="t" style="left:641.50px;top:483.40px;width:36.00px;height:16px;line-height:16px">6,0</div>
<div class="t" style="left:677.50px;top:483.40px;width:36.00px;height:16px;line-height:16px">3,0</div>
<div class="t" style="left:713.50px;top:483.40px;width:35.00px;height:16px;line-height:16px">23</div>
<div class="t" style="left:748.50px;top:483.40px;width:35.00px;height:16px;line-height:16px">29</div>
<div class="t" style="left:783.50px;top:483.40px;width:36.50px;height:16px;line-height:16px">9,1</div>
<div class="t" style="left:109.40px;top:499.15px;width:35.30px;height:16px;line-height:16px">2,3</div>
<div class="t" style="left:144.70px;top:499.15px;width:35.70px;height:16px;line-height:16px">14,0</div>
<div class="t" style="left:180.40px;top:499.15px;width:35.42px;height:16px;line-height:16px">142</div>
<div class="t" style="left:215.82px;top:499.15px;width:35.30px;height:16px;line-height:16px">3,5</div>
<div class="t" style="left:251.12px;top:499.15px;width:35.70px;height:16px;line-height:16px">26</div>
<div class="t" style="left:286.82px;top:499.15px;width:35.42px;height:16px;line-height:16px">185</div>
<div class="t" style="left:322.24px;top:499.15px;width:35.30px;height:16px;line-height:16px">4,8</div>
<div class="t" style="left:357.54px;top:499.15px;width:35.70px;height:16px;line-height:16px">25</div>
<div class="t" style="left:393.24px;top:499.15px;width:35.42px;height:16px;line-height:16px">230</div>
<div class="t" style="left:428.66px;top:499.15px;width:35.30px;height:16px;line-height:16px">6,7</div>
<div class="t" style="left:463.96px;top:499.15px;width:35.70px;height:16px;line-height:16px">22</div>
<div class="t" style="left:499.66px;top:499.15px;width:35.42px;height:16px;line-height:16px">320</div>
<div class="t" style="left:641.50px;top:499.15px;width:36.00px;height:16px;line-height:16px">6,3</div>
<div class="t" style="left:677.50px;top:499.15px;width:36.00px;height:16px;line-height:16px">4,0</div>
<div class="t" style="left:713.50px;top:499.15px;width:35.00px;height:16px;line-height:16px">24</div>
<div class="t" style="left:748.50px;top:499.15px;width:35.00px;height:16px;line-height:16px">32</div>
<div class="t" style="left:783.50px;top:499.15px;width:36.50px;height:16px;line-height:16px">10,4</div>
<div class="t" style="left:109.40px;top:514.40px;width:35.30px;height:16px;line-height:16px">2,4</div>
<div class="t" style="left:144.70px;top:514.40px;width:35.70px;height:16px;line-height:16px">11,4</div>
<div class="t" style="left:180.40px;top:514.40px;width:35.42px;height:16px;line-height:16px">149</div>
<div class="t" style="left:215.82px;top:514.40px;width:35.30px;height:16px;line-height:16px">4,2</div>
<div class="t" style="left:251.12px;top:514.40px;width:35.70px;height:16px;line-height:16px">13,6</div>
<div class="t" style="left:286.82px;top:514.40px;width:35.42px;height:16px;line-height:16px">220</div>
<div class="t" style="left:322.24px;top:514.40px;width:35.30px;height:16px;line-height:16px">4,9</div>
<div class="t" style="left:357.54px;top:514.40px;width:35.70px;height:16px;line-height:16px">18,5</div>
<div class="t" style="left:393.24px;top:514.40px;width:35.42px;height:16px;line-height:16px">245</div>
<div class="t" style="left:428.66px;top:514.40px;width:35.30px;height:16px;line-height:16px">7,0</div>
<div class="t" style="left:463.96px;top:514.40px;width:35.70px;height:16px;line-height:16px">17,8</div>
<div class="t" style="left:499.66px;top:514.40px;width:35.42px;height:16px;line-height:16px">335</div>
<div class="t" style="left:109.40px;top:531.60px;width:35.30px;height:16px;line-height:16px">1,1</div>
<div class="t" style="left:144.70px;top:531.60px;width:35.70px;height:16px;line-height:16px">12,3</div>
<div class="t" style="left:180.40px;top:531.60px;width:35.42px;height:16px;line-height:16px">40</div>
<div class="t" style="left:215.82px;top:531.60px;width:35.30px;height:16px;line-height:16px">2,2</div>
<div class="t" style="left:251.12px;top:531.60px;width:35.70px;height:16px;line-height:16px">16,3</div>
<div class="t" style="left:286.82px;top:531.60px;width:35.42px;height:16px;line-height:16px">62</div>
<div class="t" style="left:322.24px;top:531.60px;width:35.30px;height:16px;line-height:16px">2,7</div>
<div class="t" style="left:357.54px;top:531.60px;width:35.70px;height:16px;line-height:16px">21,0</div>
<div class="t" style="left:393.24px;top:531.60px;width:35.42px;height:16px;line-height:16px">69</div>
<div class="t" style="left:428.66px;top:531.60px;width:35.30px;height:16px;line-height:16px">4,2</div>
<div class="t" style="left:463.96px;top:531.60px;width:35.70px;height:16px;line-height:16px">19,3</div>
<div class="t" style="left:499.66px;top:531.60px;width:35.42px;height:16px;line-height:16px">100</div>
<div class="t" style="left:535.08px;top:531.60px;width:35.30px;height:16px;line-height:16px">5,6</div>
<div class="t" style="left:570.38px;top:531.60px;width:35.70px;height:16px;line-height:16px">22</div>
<div class="t" style="left:606.08px;top:531.60px;width:35.42px;height:16px;line-height:16px">130</div>
<div class="t" style="left:109.40px;top:546.40px;width:35.30px;height:16px;line-height:16px">1,3</div>
<div class="t" style="left:144.70px;top:546.40px;width:35.70px;height:16px;line-height:16px">9,9</div>
<div class="t" style="left:180.40px;top:546.40px;width:35.42px;height:16px;line-height:16px">45</div>
<div class="t" style="left:215.82px;top:546.40px;width:35.30px;height:16px;line-height:16px">2,5</div>
<div class="t" style="left:251.12px;top:546.40px;width:35.70px;height:16px;line-height:16px">12,1</div>
<div class="t" style="left:286.82px;top:546.40px;width:35.42px;height:16px;line-height:16px">71</div>
<div class="t" style="left:322.24px;top:546.40px;width:35.30px;height:16px;line-height:16px">3,0</div>
<div class="t" style="left:357.54px;top:546.40px;width:35.70px;height:16px;line-height:16px">16,3</div>
<div class="t" style="left:393.24px;top:546.40px;width:35.42px;height:16px;line-height:16px">78</div>
<div class="t" style="left:428.66px;top:546.40px;width:35.30px;height:16px;line-height:16px">4,6</div>
<div class="t" style="left:463.96px;top:546.40px;width:35.70px;height:16px;line-height:16px">14,6</div>
<div class="t" style="left:499.66px;top:546.40px;width:35.42px;height:16px;line-height:16px">113</div>
<div class="t" style="left:535.08px;top:546.40px;width:35.30px;height:16px;line-height:16px">6,0</div>
<div class="t" style="left:570.38px;top:546.40px;width:35.70px;height:16px;line-height:16px">17,6</div>
<div class="t" style="left:606.08px;top:546.40px;width:35.42px;height:16px;line-height:16px">142</div>
<div class="t" style="left:641.50px;top:546.40px;width:36.00px;height:16px;line-height:16px">1,5</div>
<div class="t" style="left:677.50px;top:546.40px;width:36.00px;height:16px;line-height:16px">0,7</div>
<div class="t" style="left:713.50px;top:546.40px;width:35.00px;height:16px;line-height:16px">15</div>
<div class="t" style="left:748.50px;top:546.40px;width:35.00px;height:16px;line-height:16px">19</div>
<div class="t" style="left:783.50px;top:546.40px;width:36.50px;height:16px;line-height:16px">2,7</div>
<div class="t" style="left:109.40px;top:562.50px;width:35.30px;height:16px;line-height:16px">1,4</div>
<div class="t" style="left:144.70px;top:562.50px;width:35.70px;height:16px;line-height:16px">7,9</div>
<div class="t" style="left:180.40px;top:562.50px;width:35.42px;height:16px;line-height:16px">50</div>
<div class="t" style="left:215.82px;top:562.50px;width:35.30px;height:16px;line-height:16px">2,8</div>
<div class="t" style="left:251.12px;top:562.50px;width:35.70px;height:16px;line-height:16px">8,9</div>
<div class="t" style="left:286.82px;top:562.50px;width:35.42px;height:16px;line-height:16px">79</div>
<div class="t" style="left:322.24px;top:562.50px;width:35.30px;height:16px;line-height:16px">3,2</div>
<div class="t" style="left:357.54px;top:562.50px;width:35.70px;height:16px;line-height:16px">12,3</div>
<div class="t" style="left:393.24px;top:562.50px;width:35.42px;height:16px;line-height:16px">86</div>
<div class="t" style="left:428.66px;top:562.50px;width:35.30px;height:16px;line-height:16px">4,9</div>
<div class="t" style="left:463.96px;top:562.50px;width:35.70px;height:16px;line-height:16px">10,8</div>
<div class="t" style="left:499.66px;top:562.50px;width:35.42px;height:16px;line-height:16px">124</div>
<div class="t" style="left:535.08px;top:562.50px;width:35.30px;height:16px;line-height:16px">6,3</div>
<div class="t" style="left:570.38px;top:562.50px;width:35.70px;height:16px;line-height:16px">14,0</div>
<div class="t" style="left:606.08px;top:562.50px;width:35.42px;height:16px;line-height:16px">152</div>
<div class="t" style="left:641.50px;top:562.50px;width:36.00px;height:16px;line-height:16px">3,0</div>
<div class="t" style="left:677.50px;top:562.50px;width:36.00px;height:16px;line-height:16px">1,5</div>
<div class="t" style="left:713.50px;top:562.50px;width:35.00px;height:16px;line-height:16px">16</div>
<div class="t" style="left:748.50px;top:562.50px;width:35.00px;height:16px;line-height:16px">20</div>
<div class="t" style="left:783.50px;top:562.50px;width:36.50px;height:16px;line-height:16px">4,6</div>
<div class="t" style="left:109.40px;top:578.40px;width:35.30px;height:16px;line-height:16px">1,5</div>
<div class="t" style="left:144.70px;top:578.40px;width:35.70px;height:16px;line-height:16px">6,1</div>
<div class="t" style="left:180.40px;top:578.40px;width:35.42px;height:16px;line-height:16px">54</div>
<div class="t" style="left:215.82px;top:578.40px;width:35.30px;height:16px;line-height:16px">3,0</div>
<div class="t" style="left:251.12px;top:578.40px;width:35.70px;height:16px;line-height:16px">7,6</div>
<div class="t" style="left:286.82px;top:578.40px;width:35.42px;height:16px;line-height:16px">83</div>
<div class="t" style="left:322.24px;top:578.40px;width:35.30px;height:16px;line-height:16px">3,4</div>
<div class="t" style="left:357.54px;top:578.40px;width:35.70px;height:16px;line-height:16px">10,7</div>
<div class="t" style="left:393.24px;top:578.40px;width:35.42px;height:16px;line-height:16px">91</div>
<div class="t" style="left:428.66px;top:578.40px;width:35.30px;height:16px;line-height:16px">5,3</div>
<div class="t" style="left:463.96px;top:578.40px;width:35.70px;height:16px;line-height:16px">8,1</div>
<div class="t" style="left:499.66px;top:578.40px;width:35.42px;height:16px;line-height:16px">135</div>
<div class="t" style="left:535.08px;top:578.40px;width:35.30px;height:16px;line-height:16px">6,7</div>
<div class="t" style="left:570.38px;top:578.40px;width:35.70px;height:16px;line-height:16px">11,4</div>
<div class="t" style="left:606.08px;top:578.40px;width:35.42px;height:16px;line-height:16px">163</div>
<div class="t" style="left:641.50px;top:578.40px;width:36.00px;height:16px;line-height:16px">3,4</div>
<div class="t" style="left:677.50px;top:578.40px;width:36.00px;height:16px;line-height:16px">2,0</div>
<div class="t" style="left:713.50px;top:578.40px;width:35.00px;height:16px;line-height:16px">16</div>
<div class="t" style="left:748.50px;top:578.40px;width:35.00px;height:16px;line-height:16px">20</div>
<div class="t" style="left:783.50px;top:578.40px;width:36.50px;height:16px;line-height:16px">5,5</div>
<div class="t" style="left:109.40px;top:594.30px;width:35.30px;height:16px;line-height:16px">1,7</div>
<div class="t" style="left:144.70px;top:594.30px;width:35.70px;height:16px;line-height:16px">4,9</div>
<div class="t" style="left:180.40px;top:594.30px;width:35.42px;height:16px;line-height:16px">58</div>
<div class="t" style="left:215.82px;top:594.30px;width:35.30px;height:16px;line-height:16px">3,1</div>
<div class="t" style="left:251.12px;top:594.30px;width:35.70px;height:16px;line-height:16px">6,4</div>
<div class="t" style="left:286.82px;top:594.30px;width:35.42px;height:16px;line-height:16px">87</div>
<div class="t" style="left:322.24px;top:594.30px;width:35.30px;height:16px;line-height:16px">3,5</div>
<div class="t" style="left:357.54px;top:594.30px;width:35.70px;height:16px;line-height:16px">9,3</div>
<div class="t" style="left:393.24px;top:594.30px;width:35.42px;height:16px;line-height:16px">94</div>
<div class="t" style="left:428.66px;top:594.30px;width:35.30px;height:16px;line-height:16px">5,6</div>
<div class="t" style="left:463.96px;top:594.30px;width:35.70px;height:16px;line-height:16px">6,2</div>
<div class="t" style="left:499.66px;top:594.30px;width:35.42px;height:16px;line-height:16px">146</div>
<div class="t" style="left:535.08px;top:594.30px;width:35.30px;height:16px;line-height:16px">7,0</div>
<div class="t" style="left:570.38px;top:594.30px;width:35.70px;height:16px;line-height:16px">9,1</div>
<div class="t" style="left:606.08px;top:594.30px;width:35.42px;height:16px;line-height:16px">174</div>
<div class="t" style="left:641.50px;top:594.30px;width:36.00px;height:16px;line-height:16px">5,3</div>
<div class="t" style="left:677.50px;top:594.30px;width:36.00px;height:16px;line-height:16px">3,0</div>
<div class="t" style="left:713.50px;top:594.30px;width:35.00px;height:16px;line-height:16px">18</div>
<div class="t" style="left:748.50px;top:594.30px;width:35.00px;height:16px;line-height:16px">22</div>
<div class="t" style="left:783.50px;top:594.30px;width:36.50px;height:16px;line-height:16px">7,3</div>
<div class="t" style="left:109.40px;top:610.30px;width:35.30px;height:16px;line-height:16px">1,8</div>
<div class="t" style="left:144.70px;top:610.30px;width:35.70px;height:16px;line-height:16px">3,9</div>
<div class="t" style="left:180.40px;top:610.30px;width:35.42px;height:16px;line-height:16px">62</div>
<div class="t" style="left:215.82px;top:610.30px;width:35.30px;height:16px;line-height:16px">3,2</div>
<div class="t" style="left:251.12px;top:610.30px;width:35.70px;height:16px;line-height:16px">5,5</div>
<div class="t" style="left:286.82px;top:610.30px;width:35.42px;height:16px;line-height:16px">91</div>
<div class="t" style="left:322.24px;top:610.30px;width:35.30px;height:16px;line-height:16px">3,9</div>
<div class="t" style="left:357.54px;top:610.30px;width:35.70px;height:16px;line-height:16px">6,4</div>
<div class="t" style="left:393.24px;top:610.30px;width:35.42px;height:16px;line-height:16px">105</div>
<div class="t" style="left:428.66px;top:610.30px;width:35.30px;height:16px;line-height:16px">6,0</div>
<div class="t" style="left:463.96px;top:610.30px;width:35.70px;height:16px;line-height:16px">4,9</div>
<div class="t" style="left:499.66px;top:610.30px;width:35.42px;height:16px;line-height:16px">157</div>
<div class="t" style="left:641.50px;top:610.30px;width:36.00px;height:16px;line-height:16px">6,3</div>
<div class="t" style="left:677.50px;top:610.30px;width:36.00px;height:16px;line-height:16px">4,0</div>
<div class="t" style="left:713.50px;top:610.30px;width:35.00px;height:16px;line-height:16px">19</div>
<div class="t" style="left:748.50px;top:610.30px;width:35.00px;height:16px;line-height:16px">24</div>
<div class="t" style="left:783.50px;top:610.30px;width:36.50px;height:16px;line-height:16px">9,4</div>
<div class="t" style="left:109.40px;top:625.70px;width:35.30px;height:16px;line-height:16px">2,0</div>
<div class="t" style="left:144.70px;top:625.70px;width:35.70px;height:16px;line-height:16px">3,1</div>
<div class="t" style="left:180.40px;top:625.70px;width:35.42px;height:16px;line-height:16px">67</div>
<div class="t" style="left:215.82px;top:625.70px;width:35.30px;height:16px;line-height:16px">3,4</div>
<div class="t" style="left:251.12px;top:625.70px;width:35.70px;height:16px;line-height:16px">4,7</div>
<div class="t" style="left:286.82px;top:625.70px;width:35.42px;height:16px;line-height:16px">95</div>
<div class="t" style="left:322.24px;top:625.70px;width:35.30px;height:16px;line-height:16px">4,2</div>
<div class="t" style="left:357.54px;top:625.70px;width:35.70px;height:16px;line-height:16px">4,7</div>
<div class="t" style="left:393.24px;top:625.70px;width:35.42px;height:16px;line-height:16px">115</div>
<div class="t" style="left:428.66px;top:625.70px;width:35.30px;height:16px;line-height:16px">6,3</div>
<div class="t" style="left:463.96px;top:625.70px;width:35.70px;height:16px;line-height:16px">4,0</div>
<div class="t" style="left:499.66px;top:625.70px;width:35.42px;height:16px;line-height:16px">167</div>
<div class="t" style="left:109.40px;top:642.65px;width:35.30px;height:16px;line-height:16px">1,7</div>
<div class="t" style="left:144.70px;top:642.65px;width:35.70px;height:16px;line-height:16px">25,0</div>
<div class="t" style="left:180.40px;top:642.65px;width:35.42px;height:16px;line-height:16px">156</div>
<div class="t" style="left:215.82px;top:642.65px;width:35.30px;height:16px;line-height:16px">3,0</div>
<div class="t" style="left:251.12px;top:642.65px;width:35.70px;height:16px;line-height:16px">39</div>
<div class="t" style="left:286.82px;top:642.65px;width:35.42px;height:16px;line-height:16px">230</div>
<div class="t" style="left:322.24px;top:642.65px;width:35.30px;height:16px;line-height:16px">3,4</div>
<div class="t" style="left:357.54px;top:642.65px;width:35.70px;height:16px;line-height:16px">50</div>
<div class="t" style="left:393.24px;top:642.65px;width:35.42px;height:16px;line-height:16px">150</div>
<div class="t" style="left:428.66px;top:642.65px;width:35.30px;height:16px;line-height:16px">4,6</div>
<div class="t" style="left:463.96px;top:642.65px;width:35.70px;height:16px;line-height:16px">62</div>
<div class="t" style="left:499.66px;top:642.65px;width:35.42px;height:16px;line-height:16px">320</div>
<div class="t" style="left:535.08px;top:642.65px;width:35.30px;height:16px;line-height:16px">6,0</div>
<div class="t" style="left:570.38px;top:642.65px;width:35.70px;height:16px;line-height:16px">93</div>
<div class="t" style="left:606.08px;top:642.65px;width:35.42px;height:16px;line-height:16px">395</div>
<div class="t" style="left:641.50px;top:642.65px;width:36.00px;height:16px;line-height:16px">2,0</div>
<div class="t" style="left:677.50px;top:642.65px;width:36.00px;height:16px;line-height:16px">0,7</div>
<div class="t" style="left:713.50px;top:642.65px;width:35.00px;height:16px;line-height:16px">24</div>
<div class="t" style="left:748.50px;top:642.65px;width:35.00px;height:16px;line-height:16px">33</div>
<div class="t" style="left:783.50px;top:642.65px;width:36.50px;height:16px;line-height:16px">5,5</div>
<div class="t" style="left:109.40px;top:657.25px;width:35.30px;height:16px;line-height:16px">1,8</div>
<div class="t" style="left:144.70px;top:657.25px;width:35.70px;height:16px;line-height:16px">19,7</div>
<div class="t" style="left:180.40px;top:657.25px;width:35.42px;height:16px;line-height:16px">167</div>
<div class="t" style="left:215.82px;top:657.25px;width:35.30px;height:16px;line-height:16px">3,1</div>
<div class="t" style="left:251.12px;top:657.25px;width:35.70px;height:16px;line-height:16px">33</div>
<div class="t" style="left:286.82px;top:657.25px;width:35.42px;height:16px;line-height:16px">240</div>
<div class="t" style="left:322.24px;top:657.25px;width:35.30px;height:16px;line-height:16px">3,5</div>
<div class="t" style="left:357.54px;top:657.25px;width:35.70px;height:16px;line-height:16px">43</div>
<div class="t" style="left:393.24px;top:657.25px;width:35.42px;height:16px;line-height:16px">260</div>
<div class="t" style="left:428.66px;top:657.25px;width:35.30px;height:16px;line-height:16px">4,9</div>
<div class="t" style="left:463.96px;top:657.25px;width:35.70px;height:16px;line-height:16px">47</div>
<div class="t" style="left:499.66px;top:657.25px;width:35.42px;height:16px;line-height:16px">345</div>
<div class="t" style="left:535.08px;top:657.25px;width:35.30px;height:16px;line-height:16px">6,3</div>
<div class="t" style="left:570.38px;top:657.25px;width:35.70px;height:16px;line-height:16px">77</div>
<div class="t" style="left:606.08px;top:657.25px;width:35.42px;height:16px;line-height:16px">425</div>
<div class="t" style="left:641.50px;top:657.25px;width:36.00px;height:16px;line-height:16px">3,2</div>
<div class="t" style="left:677.50px;top:657.25px;width:36.00px;height:16px;line-height:16px">1,5</div>
<div class="t" style="left:713.50px;top:657.25px;width:35.00px;height:16px;line-height:16px">25</div>
<div class="t" style="left:748.50px;top:657.25px;width:35.00px;height:16px;line-height:16px">34</div>
<div class="t" style="left:783.50px;top:657.25px;width:36.50px;height:16px;line-height:16px">6,4</div>
<div class="t" style="left:109.40px;top:673.20px;width:35.30px;height:16px;line-height:16px">2,0</div>
<div class="t" style="left:144.70px;top:673.20px;width:35.70px;height:16px;line-height:16px">15,1</div>
<div class="t" style="left:180.40px;top:673.20px;width:35.42px;height:16px;line-height:16px">178</div>
<div class="t" style="left:215.82px;top:673.20px;width:35.30px;height:16px;line-height:16px">3,2</div>
<div class="t" style="left:251.12px;top:673.20px;width:35.70px;height:16px;line-height:16px">27</div>
<div class="t" style="left:286.82px;top:673.20px;width:35.42px;height:16px;line-height:16px">255</div>
<div class="t" style="left:322.24px;top:673.20px;width:35.30px;height:16px;line-height:16px">3,7</div>
<div class="t" style="left:357.54px;top:673.20px;width:35.70px;height:16px;line-height:16px">41</div>
<div class="t" style="left:393.24px;top:673.20px;width:35.42px;height:16px;line-height:16px">275</div>
<div class="t" style="left:428.66px;top:673.20px;width:35.30px;height:16px;line-height:16px">5,3</div>
<div class="t" style="left:463.96px;top:673.20px;width:35.70px;height:16px;line-height:16px">36</div>
<div class="t" style="left:499.66px;top:673.20px;width:35.42px;height:16px;line-height:16px">375</div>
<div class="t" style="left:535.08px;top:673.20px;width:35.30px;height:16px;line-height:16px">6,7</div>
<div class="t" style="left:570.38px;top:673.20px;width:35.70px;height:16px;line-height:16px">62</div>
<div class="t" style="left:606.08px;top:673.20px;width:35.42px;height:16px;line-height:16px">460</div>
<div class="t" style="left:641.50px;top:673.20px;width:36.00px;height:16px;line-height:16px">3,9</div>
<div class="t" style="left:677.50px;top:673.20px;width:36.00px;height:16px;line-height:16px">2,0</div>
<div class="t" style="left:713.50px;top:673.20px;width:35.00px;height:16px;line-height:16px">28</div>
<div class="t" style="left:748.50px;top:673.20px;width:35.00px;height:16px;line-height:16px">37</div>
<div class="t" style="left:783.50px;top:673.20px;width:36.50px;height:16px;line-height:16px">7,3</div>
<div class="t" style="left:109.40px;top:688.90px;width:35.30px;height:16px;line-height:16px">2,1</div>
<div class="t" style="left:144.70px;top:688.90px;width:35.70px;height:16px;line-height:16px">11,4</div>
<div class="t" style="left:180.40px;top:688.90px;width:35.42px;height:16px;line-height:16px">193</div>
<div class="t" style="left:215.82px;top:688.90px;width:35.30px;height:16px;line-height:16px">3,4</div>
<div class="t" style="left:251.12px;top:688.90px;width:35.70px;height:16px;line-height:16px">23</div>
<div class="t" style="left:286.82px;top:688.90px;width:35.42px;height:16px;line-height:16px">265</div>
<div class="t" style="left:322.24px;top:688.90px;width:35.30px;height:16px;line-height:16px">3,9</div>
<div class="t" style="left:357.54px;top:688.90px;width:35.70px;height:16px;line-height:16px">27</div>
<div class="t" style="left:393.24px;top:688.90px;width:35.42px;height:16px;line-height:16px">300</div>
<div class="t" style="left:428.66px;top:688.90px;width:35.30px;height:16px;line-height:16px">5,6</div>
<div class="t" style="left:463.96px;top:688.90px;width:35.70px;height:16px;line-height:16px">26</div>
<div class="t" style="left:499.66px;top:688.90px;width:35.42px;height:16px;line-height:16px">405</div>
<div class="t" style="left:535.08px;top:688.90px;width:35.30px;height:16px;line-height:16px">7,0</div>
<div class="t" style="left:570.38px;top:688.90px;width:35.70px;height:16px;line-height:16px">52</div>
<div class="t" style="left:606.08px;top:688.90px;width:35.42px;height:16px;line-height:16px">495</div>
<div class="t" style="left:641.50px;top:688.90px;width:36.00px;height:16px;line-height:16px">5,3</div>
<div class="t" style="left:677.50px;top:688.90px;width:36.00px;height:16px;line-height:16px">3,0</div>
<div class="t" style="left:713.50px;top:688.90px;width:35.00px;height:16px;line-height:16px">29</div>
<div class="t" style="left:748.50px;top:688.90px;width:35.00px;height:16px;line-height:16px">38</div>
<div class="t" style="left:783.50px;top:688.90px;width:36.50px;height:16px;line-height:16px">7,9</div>
<div class="t" style="left:109.40px;top:704.90px;width:35.30px;height:16px;line-height:16px">2,3</div>
<div class="t" style="left:144.70px;top:704.90px;width:35.70px;height:16px;line-height:16px">7,6</div>
<div class="t" style="left:180.40px;top:704.90px;width:35.42px;height:16px;line-height:16px">205</div>
<div class="t" style="left:215.82px;top:704.90px;width:35.30px;height:16px;line-height:16px">3,5</div>
<div class="t" style="left:251.12px;top:704.90px;width:35.70px;height:16px;line-height:16px">18,5</div>
<div class="t" style="left:286.82px;top:704.90px;width:35.42px;height:16px;line-height:16px">280</div>
<div class="t" style="left:322.24px;top:704.90px;width:35.30px;height:16px;line-height:16px">4,1</div>
<div class="t" style="left:357.54px;top:704.90px;width:35.70px;height:16px;line-height:16px">23</div>
<div class="t" style="left:393.24px;top:704.90px;width:35.42px;height:16px;line-height:16px">310</div>
<div class="t" style="left:428.66px;top:704.90px;width:35.30px;height:16px;line-height:16px">6,0</div>
<div class="t" style="left:463.96px;top:704.90px;width:35.70px;height:16px;line-height:16px">18,9</div>
<div class="t" style="left:499.66px;top:704.90px;width:35.42px;height:16px;line-height:16px">435</div>
<div class="t" style="left:641.50px;top:704.90px;width:36.00px;height:16px;line-height:16px">6,3</div>
<div class="t" style="left:677.50px;top:704.90px;width:36.00px;height:16px;line-height:16px">4,0</div>
<div class="t" style="left:713.50px;top:704.90px;width:35.00px;height:16px;line-height:16px">33</div>
<div class="t" style="left:748.50px;top:704.90px;width:35.00px;height:16px;line-height:16px">42</div>
<div class="t" style="left:783.50px;top:704.90px;width:36.50px;height:16px;line-height:16px">9,8</div>
<div class="t" style="left:215.82px;top:721.00px;width:35.30px;height:16px;line-height:16px">3,7</div>
<div class="t" style="left:251.12px;top:721.00px;width:35.70px;height:16px;line-height:16px">14,8</div>
<div class="t" style="left:286.82px;top:721.00px;width:35.42px;height:16px;line-height:16px">290</div>
<div class="t" style="left:322.24px;top:721.00px;width:35.30px;height:16px;line-height:16px">4,2</div>
<div class="t" style="left:357.54px;top:721.00px;width:35.70px;height:16px;line-height:16px">18,9</div>
<div class="t" style="left:393.24px;top:721.00px;width:35.42px;height:16px;line-height:16px">320</div>
<div class="t" style="left:428.66px;top:721.00px;width:35.30px;height:16px;line-height:16px">6,3</div>
<div class="t" style="left:463.96px;top:721.00px;width:35.70px;height:16px;line-height:16px">13,6</div>
<div class="t" style="left:499.66px;top:721.00px;width:35.42px;height:16px;line-height:16px">460</div>
<div class="t" style="left:322.24px;top:737.10px;width:35.30px;height:16px;line-height:16px">4,4</div>
<div class="t" style="left:357.54px;top:737.10px;width:35.70px;height:16px;line-height:16px">15,9</div>
<div class="t" style="left:393.24px;top:737.10px;width:35.42px;height:16px;line-height:16px">335</div>
<div class="dk" style="left:110px;top:117px;width:710px;height:1px;"></div>
<div class="dk" style="left:110px;top:133px;width:710px;height:1px;"></div>
<div class="dk" style="left:110px;top:149px;width:710px;height:1px;"></div>
<div class="dk" style="left:110px;top:165px;width:710px;height:1px;"></div>
<div class="dk" style="left:110px;top:181px;width:710px;height:1px;"></div>
<div class="dk" style="left:110px;top:212px;width:710px;height:1px;"></div>
<div class="dk" style="left:110px;top:229px;width:710px;height:1px;"></div>
<div class="dk" style="left:110px;top:244px;width:710px;height:1px;"></div>
<div class="dk" style="left:110px;top:260px;width:710px;height:1px;"></div>
<div class="dk" style="left:110px;top:276px;width:710px;height:1px;"></div>
<div class="dk" style="left:110px;top:292px;width:710px;height:1px;"></div>
<div class="dk" style="left:110px;top:324px;width:710px;height:1px;"></div>
<div class="dk" style="left:110px;top:340px;width:710px;height:1px;"></div>
<div class="dk" style="left:110px;top:356px;width:710px;height:1px;"></div>
<div class="dk" style="left:110px;top:372px;width:710px;height:1px;"></div>
<div class="dk" style="left:110px;top:388px;width:710px;height:1px;"></div>
<div class="dk" style="left:110px;top:404px;width:710px;height:1px;"></div>
<div class="dk" style="left:110px;top:435px;width:710px;height:1px;"></div>
<div class="dk" style="left:110px;top:451px;width:710px;height:1px;"></div>
<div class="dk" style="left:110px;top:466px;width:710px;height:1px;"></div>
<div class="dk" style="left:110px;top:482px;width:710px;height:1px;"></div>
<div class="dk" style="left:110px;top:498px;width:710px;height:1px;"></div>
<div class="dk" style="left:110px;top:514px;width:710px;height:1px;"></div>
<div class="dk" style="left:110px;top:545px;width:710px;height:1px;"></div>
<div class="dk" style="left:110px;top:561px;width:710px;height:1px;"></div>
<div class="dk" style="left:110px;top:577px;width:710px;height:1px;"></div>
<div class="dk" style="left:110px;top:593px;width:710px;height:1px;"></div>
<div class="dk" style="left:110px;top:609px;width:710px;height:1px;"></div>
<div class="dk" style="left:110px;top:625px;width:710px;height:1px;"></div>
<div class="dk" style="left:110px;top:656px;width:710px;height:1px;"></div>
<div class="dk" style="left:110px;top:672px;width:710px;height:1px;"></div>
<div class="dk" style="left:110px;top:688px;width:710px;height:1px;"></div>
<div class="dk" style="left:110px;top:703px;width:710px;height:1px;"></div>
<div class="dk" style="left:110px;top:720px;width:710px;height:1px;"></div>
<div class="dk" style="left:110px;top:736px;width:710px;height:1px;"></div>
<div class="rl" style="left:1px;top:196px;width:819px;height:4px;"></div>
<div class="rl" style="left:1px;top:306px;width:819px;height:4px;"></div>
<div class="rl" style="left:1px;top:417px;width:819px;height:4px;"></div>
<div class="rl" style="left:1px;top:528px;width:819px;height:4px;"></div>
<div class="rl" style="left:1px;top:640px;width:819px;height:4px;"></div>
<div class="dk" style="left:144px;top:102px;width:1px;height:651px;"></div>
<div class="dk" style="left:180px;top:102px;width:1px;height:651px;"></div>
<div class="dk" style="left:251px;top:102px;width:1px;height:651px;"></div>
<div class="dk" style="left:286px;top:102px;width:1px;height:651px;"></div>
<div class="dk" style="left:357px;top:102px;width:1px;height:651px;"></div>
<div class="dk" style="left:393px;top:102px;width:1px;height:651px;"></div>
<div class="dk" style="left:463px;top:102px;width:1px;height:651px;"></div>
<div class="dk" style="left:499px;top:102px;width:1px;height:651px;"></div>
<div class="dk" style="left:570px;top:102px;width:1px;height:651px;"></div>
<div class="dk" style="left:606px;top:102px;width:1px;height:651px;"></div>
<div class="dk" style="left:677px;top:102px;width:1px;height:651px;"></div>
<div class="dk" style="left:713px;top:102px;width:1px;height:651px;"></div>
<div class="dk" style="left:748px;top:102px;width:1px;height:651px;"></div>
<div class="dk" style="left:783px;top:102px;width:1px;height:651px;"></div>
<div class="rl" style="left:108px;top:102px;width:2px;height:651px;"></div>
<div class="rl" style="left:215px;top:102px;width:2px;height:651px;"></div>
<div class="rl" style="left:321px;top:102px;width:2px;height:651px;"></div>
<div class="rl" style="left:428px;top:102px;width:2px;height:651px;"></div>
<div class="rl" style="left:534px;top:102px;width:2px;height:651px;"></div>
<div class="rl" style="left:640px;top:102px;width:2px;height:651px;"></div>
<div class="dk" style="left:1px;top:752px;width:818px;height:1px;"></div>
</body></html>
